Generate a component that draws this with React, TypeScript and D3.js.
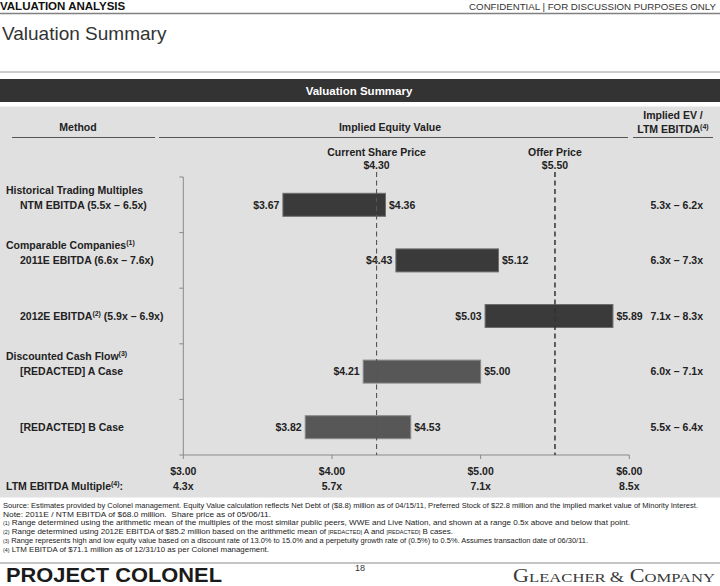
import React from "react";
import * as d3 from "d3";

const methods = [
  "NTM EBITDA (5.5x – 6.5x)",
  "2011E EBITDA (6.6x – 7.6x)",
  "2012E EBITDA",
  "[REDACTED] A Case",
  "[REDACTED] B Case",
];
const methodSup = ["", "", "(2)", "", ""];
const methodSuffix = ["", "", " (5.9x – 6.9x)", "", ""];
const groups = ["Historical Trading Multiples", "Comparable Companies", "", "Discounted Cash Flow", ""];
const groupSup = ["", "(1)", "", "(3)", ""];
const lows = [3.67, 4.43, 5.03, 4.21, 3.82];
const highs = [4.36, 5.12, 5.89, 5.0, 4.53];
const barShade = ["dark", "dark", "dark", "mid", "mid"];
const evRanges = ["5.3x – 6.2x", "6.3x – 7.3x", "7.1x – 8.3x", "6.0x – 7.1x", "5.5x – 6.4x"];
const priceTicks = [3, 4, 5, 6];
const multipleTicks = ["4.3x", "5.7x", "7.1x", "8.5x"];
const currentPrice = 4.3;
const offerPrice = 5.5;

const footMarks = ["", "", "(1)", "(2)", "(3)", "(4)"];
const footTexts = [
  "Source: Estimates provided by Colonel management. Equity Value calculation reflects Net Debt of ($8.8) million as of 04/15/11, Preferred Stock of $22.8 million and the implied market value of Minority Interest.",
  "Note: 2011E / NTM EBITDA of $68.0 million.  Share price as of 05/06/11.",
  " Range determined using the arithmetic mean of the multiples of the most similar public peers, WWE and Live Nation, and shown at a range 0.5x above and below that point.",
  " Range determined using 2012E EBITDA of $85.2 million based on the arithmetic mean of [REDACTED] A and [REDACTED] B cases.",
  " Range represents high and low equity value based on a discount rate of 13.0% to 15.0% and a perpetuity growth rate of (0.5%) to 0.5%. Assumes transaction date of 06/30/11.",
  " LTM EBITDA of $71.1 million as of 12/31/10 as per Colonel management.",
];
const footWidths = [695, 268, 627, 450, 585, 266];

const SANS = "'Liberation Sans', Arial, Helvetica, sans-serif";
const NARROW = "'Liberation Sans Narrow', 'Arial Narrow', 'Liberation Sans', sans-serif";
const SERIF = "'Liberation Serif', 'Times New Roman', serif";

function Sup({ t, size = 7 }: { t: string; size?: number }) {
  if (!t) return null;
  return (
    <tspan fontSize={size} dy={-4}>
      {t}
    </tspan>
  );
}

function redactedParts(s: string, baseSize: number) {
  const parts = s.split("[REDACTED]");
  const out: any[] = [];
  parts.forEach((p, i) => {
    out.push(<tspan key={"p" + i}>{p}</tspan>);
    if (i < parts.length - 1)
      out.push(
        <tspan key={"r" + i} fontSize={baseSize * 0.7}>
          [REDACTED]
        </tspan>
      );
  });
  return out;
}

export default function App() {
  const x = d3.scaleLinear().domain([3, 6]).range([183.3, 629.3]);
  const y = d3
    .scaleBand<number>()
    .domain(d3.range(methods.length))
    .range([177, 455])
    .padding(0);
  const bw = y.bandwidth();
  const barH = 23;
  const axisY = 455;
  const boundaries = d3.range(methods.length + 1).map((i) => 177 + i * bw);

  return (
    <svg
      width={720}
      height={586}
      style={{ position: "absolute", left: 0, top: 0, background: "#fff" }}
      fontFamily={SANS}
    >
      {/* top header */}
      <text x={0} y={10} fontSize={11.5} fontWeight="bold" fill="#111">
        VALUATION ANALYSIS
      </text>
      <text x={716} y={10} fontSize={9.7} fill="#333" textAnchor="end">
        CONFIDENTIAL | FOR DISCUSSION PURPOSES ONLY
      </text>
      <line x1={0} x2={720} y1={13.5} y2={13.5} stroke="#808080" strokeWidth={1.5} />
      <text x={2} y={40} fontSize={19} fill="#333">
        Valuation Summary
      </text>
      <line x1={0} x2={720} y1={72} y2={72} stroke="#9a9a9a" strokeWidth={1} />

      {/* title bar */}
      <rect x={0} y={79} width={720} height={23} fill="#333333" />
      <text x={359} y={94.5} fontSize={11.5} fontWeight="bold" fill="#fff" textAnchor="middle">
        Valuation Summary
      </text>

      {/* panel */}
      <rect x={0} y={106.5} width={720} height={391} fill="#e0e0e0" />

      {/* column headers */}
      <text x={78} y={131} fontSize={10.5} fontWeight="bold" fill="#222" textAnchor="middle">
        Method
      </text>
      <text x={390} y={131} fontSize={10.5} fontWeight="bold" fill="#222" textAnchor="middle">
        Implied Equity Value
      </text>
      <text x={673} y={119} fontSize={10.5} fontWeight="bold" fill="#222" textAnchor="middle">
        Implied EV /
      </text>
      <text x={673} y={133} fontSize={10.5} fontWeight="bold" fill="#222" textAnchor="middle">
        LTM EBITDA<Sup t="(4)" />
      </text>
      <line x1={12} x2={155} y1={137.5} y2={137.5} stroke="#555" strokeWidth={1.2} />
      <line x1={159} x2={628} y1={137.5} y2={137.5} stroke="#555" strokeWidth={1.2} />
      <line x1={633} x2={713} y1={137.5} y2={137.5} stroke="#555" strokeWidth={1.2} />

      {/* reference labels */}
      <text x={x(currentPrice)} y={156} fontSize={10.5} fontWeight="bold" fill="#222" textAnchor="middle">
        Current Share Price
      </text>
      <text x={x(currentPrice)} y={169} fontSize={10.5} fontWeight="bold" fill="#222" textAnchor="middle">
        {"$" + currentPrice.toFixed(2)}
      </text>
      <text x={x(offerPrice)} y={156} fontSize={10.5} fontWeight="bold" fill="#222" textAnchor="middle">
        Offer Price
      </text>
      <text x={x(offerPrice)} y={169} fontSize={10.5} fontWeight="bold" fill="#222" textAnchor="middle">
        {"$" + offerPrice.toFixed(2)}
      </text>

      {/* axes */}
      <line x1={x(3)} x2={x(3)} y1={177} y2={axisY} stroke="#8a8a8a" strokeWidth={1} />
      {boundaries.map((b, i) => (
        <line key={"lt" + i} x1={x(3) - 4} x2={x(3)} y1={b} y2={b} stroke="#8a8a8a" strokeWidth={1} />
      ))}
      <line x1={x(3)} x2={x(6)} y1={axisY} y2={axisY} stroke="#8a8a8a" strokeWidth={1} />
      {priceTicks.map((t, i) => (
        <g key={"bt" + i}>
          <line x1={x(t)} x2={x(t)} y1={axisY} y2={axisY + 4} stroke="#8a8a8a" strokeWidth={1} />
          <text x={x(t)} y={475} fontSize={10.5} fontWeight="bold" fill="#222" textAnchor="middle">
            {"$" + t.toFixed(2)}
          </text>
          <text x={x(t)} y={490} fontSize={10.5} fontWeight="bold" fill="#222" textAnchor="middle">
            {multipleTicks[i]}
          </text>
        </g>
      ))}
      <text x={6} y={490} fontSize={10.5} fontWeight="bold" fill="#222">
        LTM EBITDA Multiple<Sup t="(4)" />
        <tspan dy={4}>:</tspan>
      </text>

      {/* bars */}
      {methods.map((m, i) => {
        const cy = (y(i) as number) + bw / 2;
        const dark = barShade[i] === "dark";
        return (
          <g key={"bar" + i}>
            <rect
              x={x(lows[i])}
              y={cy - barH / 2}
              width={x(highs[i]) - x(lows[i])}
              height={barH}
              fill={dark ? "#3a3a3a" : "#575757"}
              stroke={dark ? "#6e6e6e" : "#8a8a8a"}
              strokeWidth={1}
            />
            <text x={x(lows[i]) - 3.5} y={cy + 3.8} fontSize={10.5} fontWeight="bold" fill="#222" textAnchor="end">
              {"$" + lows[i].toFixed(2)}
            </text>
            <text x={x(highs[i]) + 3.5} y={cy + 3.8} fontSize={10.5} fontWeight="bold" fill="#222">
              {"$" + highs[i].toFixed(2)}
            </text>
            <text x={703} y={cy + 3.8} fontSize={10.5} fontWeight="bold" fill="#222" textAnchor="end">
              {evRanges[i]}
            </text>
            <text x={20} y={cy + 3.8} fontSize={10.5} fontWeight="bold" fill="#222">
              {m}
              <Sup t={methodSup[i]} />
              {methodSup[i] ? <tspan dy={4}>{methodSuffix[i]}</tspan> : null}
            </text>
            {groups[i] ? (
              <text x={6} y={cy - 11.2} fontSize={10.5} fontWeight="bold" fill="#222">
                {groups[i]}
                <Sup t={groupSup[i]} />
              </text>
            ) : null}
          </g>
        );
      })}

      {/* reference dashed lines */}
      <line
        x1={x(currentPrice)}
        x2={x(currentPrice)}
        y1={172}
        y2={axisY}
        stroke="#555"
        strokeWidth={1.1}
        strokeDasharray="5,3.5"
      />
      <line
        x1={x(offerPrice)}
        x2={x(offerPrice)}
        y1={172}
        y2={axisY}
        stroke="#333"
        strokeWidth={1.5}
        strokeDasharray="5,3.5"
      />

      {/* footnotes */}
      {footTexts.map((t, i) => (
        <text
          key={"fn" + i}
          x={3}
          y={508 + i * 9}
          fontSize={7.5}
          fontFamily={NARROW}
          fill="#222"
          textLength={footWidths[i]}
          lengthAdjust="spacingAndGlyphs"
          style={{ whiteSpace: "pre" }}
        >
          {footMarks[i] ? (
            <tspan fontSize={5} dy={-1.5}>
              {footMarks[i]}
            </tspan>
          ) : null}
          {footMarks[i] ? <tspan dy={1.5}>{""}</tspan> : null}
          {redactedParts(t, 7.5)}
        </text>
      ))}

      {/* footer */}
      <line x1={0} x2={720} y1={563} y2={563} stroke="#8a8a8a" strokeWidth={1} />
      <text x={6} y={581.5} fontSize={21} fontWeight="bold" fill="#1a1a1a" textLength={216} lengthAdjust="spacingAndGlyphs">
        PROJECT COLONEL
      </text>
      <text x={360} y={571} fontSize={9} fill="#333" textAnchor="middle">
        18
      </text>
      <text
        x={513}
        y={582}
        fontFamily={SERIF}
        fill="#3a3a3a"
        textLength={202}
        lengthAdjust="spacingAndGlyphs"
      >
        <tspan fontSize={18}>G</tspan>
        <tspan fontSize={13.5}>LEACHER </tspan>
        <tspan fontSize={15}>&amp;</tspan>
        <tspan fontSize={18}> C</tspan>
        <tspan fontSize={13.5}>OMPANY</tspan>
      </text>
    </svg>
  );
}
